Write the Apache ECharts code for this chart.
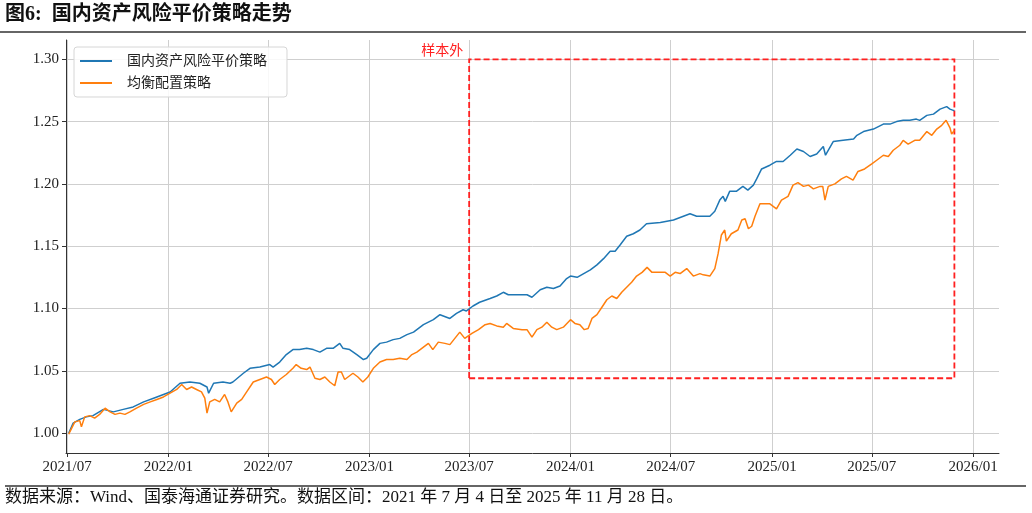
<!DOCTYPE html>
<html>
<head>
<meta charset="utf-8">
<script src="https://cdn.jsdelivr.net/npm/echarts@6/dist/echarts.min.js"></script>
</head>
<body style="margin:0;background:#fff">
<!-- 图表容器 -->
<div id="main" style="width:1032px;height:513px;"></div>
<script type="text/javascript">
    // 国内资产风险平价策略
    var riskDates = ['2021-07-04','2021-07-12','2021-07-24','2021-08-05','2021-08-17','2021-09-05','2021-09-23','2021-10-11','2021-10-29','2021-11-17',
        '2021-12-05','2021-12-23','2022-01-04','2022-01-22','2022-02-09','2022-02-27','2022-03-12','2022-03-15','2022-03-24','2022-04-10',
        '2022-04-23','2022-04-28','2022-05-17','2022-05-29','2022-06-16','2022-07-04','2022-07-10','2022-07-22','2022-08-03','2022-08-15',
        '2022-08-27','2022-09-09','2022-09-21','2022-10-03','2022-10-15','2022-10-27','2022-11-08','2022-11-14','2022-11-26','2022-12-09',
        '2022-12-21','2022-12-27','2023-01-08','2023-01-20','2023-02-01','2023-02-13','2023-02-25','2023-03-10','2023-03-22','2023-04-09',
        '2023-04-27','2023-05-09','2023-05-27','2023-06-08','2023-06-20','2023-06-26','2023-07-08','2023-07-20','2023-08-08','2023-08-20',
        '2023-09-01','2023-09-10','2023-09-25','2023-10-14','2023-10-23','2023-11-07','2023-11-19','2023-12-01','2023-12-13','2023-12-25',
        '2024-01-01','2024-01-13','2024-01-25','2024-02-06','2024-02-18','2024-03-01','2024-03-13','2024-03-22','2024-03-31','2024-04-12',
        '2024-04-24','2024-05-06','2024-05-18','2024-06-12','2024-07-06','2024-08-05','2024-08-17','2024-08-29','2024-09-10','2024-09-19',
        '2024-09-28','2024-10-04','2024-10-08','2024-10-16','2024-10-28','2024-11-09','2024-11-18','2024-11-28','2024-12-04','2024-12-13',
        '2024-12-28','2025-01-09','2025-01-21','2025-02-03','2025-02-15','2025-02-27','2025-03-11','2025-03-23','2025-04-04','2025-04-08',
        '2025-04-22','2025-05-10','2025-05-29','2025-06-04','2025-06-16','2025-07-04','2025-07-22','2025-08-03','2025-08-15','2025-08-27',
        '2025-09-08','2025-09-20','2025-09-26','2025-10-09','2025-10-21','2025-11-02','2025-11-14','2025-11-20','2025-11-26','2025-11-28'];
    var riskValues = [1.000,1.008,1.011,1.013,1.014,1.019,1.017,1.019,1.021,1.025,
        1.028,1.031,1.033,1.040,1.041,1.040,1.037,1.032,1.040,1.041,
        1.040,1.041,1.048,1.052,1.053,1.055,1.053,1.057,1.063,1.067,
        1.067,1.068,1.067,1.065,1.068,1.068,1.072,1.068,1.067,1.063,
        1.059,1.060,1.067,1.072,1.073,1.075,1.076,1.079,1.081,1.087,
        1.091,1.095,1.092,1.096,1.099,1.098,1.102,1.105,1.108,1.110,
        1.113,1.111,1.111,1.111,1.109,1.115,1.117,1.116,1.118,1.124,
        1.126,1.125,1.128,1.131,1.135,1.140,1.146,1.146,1.151,1.158,
        1.160,1.163,1.168,1.169,1.171,1.176,1.174,1.174,1.174,1.178,
        1.187,1.190,1.186,1.194,1.194,1.198,1.195,1.199,1.204,1.212,
        1.215,1.218,1.218,1.223,1.228,1.226,1.222,1.224,1.230,1.223,
        1.234,1.235,1.236,1.239,1.242,1.244,1.248,1.248,1.250,1.251,
        1.251,1.252,1.251,1.255,1.256,1.260,1.262,1.260,1.259,1.259];

    // 均衡配置策略
    var balDates = ['2021-07-04','2021-07-06','2021-07-15','2021-07-24','2021-07-27','2021-08-02','2021-08-11','2021-08-20','2021-08-29','2021-09-08',
        '2021-09-17','2021-09-26','2021-10-05','2021-10-14','2021-10-23','2021-11-04','2021-11-17','2021-11-29','2021-12-11','2021-12-23',
        '2022-01-04','2022-01-16','2022-01-25','2022-02-03','2022-02-12','2022-02-21','2022-03-02','2022-03-08','2022-03-12','2022-03-17',
        '2022-03-26','2022-04-04','2022-04-13','2022-04-19','2022-04-25','2022-05-05','2022-05-14','2022-05-23','2022-06-04','2022-06-16',
        '2022-06-28','2022-07-07','2022-07-13','2022-07-22','2022-08-03','2022-08-15','2022-08-21','2022-08-30','2022-09-09','2022-09-15',
        '2022-09-24','2022-10-03','2022-10-12','2022-10-21','2022-10-30','2022-11-05','2022-11-11','2022-11-17','2022-11-23','2022-12-02',
        '2022-12-11','2022-12-20','2022-12-29','2023-01-08','2023-01-20','2023-02-01','2023-02-13','2023-02-25','2023-03-10','2023-03-19',
        '2023-03-28','2023-04-09','2023-04-18','2023-04-26','2023-05-06','2023-05-18','2023-05-27','2023-06-05','2023-06-14','2023-06-23',
        '2023-07-06','2023-07-18','2023-07-30','2023-08-08','2023-08-20','2023-09-01','2023-09-07','2023-09-19','2023-10-05','2023-10-14',
        '2023-10-23','2023-11-01','2023-11-10','2023-11-19','2023-11-28','2023-12-07','2023-12-19','2024-01-01','2024-01-09','2024-01-18',
        '2024-01-26','2024-02-02','2024-02-09','2024-02-18','2024-02-27','2024-03-07','2024-03-16','2024-03-25','2024-04-03','2024-04-12',
        '2024-04-21','2024-04-30','2024-05-10','2024-05-19','2024-05-28','2024-06-09','2024-06-21','2024-06-30','2024-07-09','2024-07-18',
        '2024-07-30','2024-08-11','2024-08-23','2024-08-29','2024-09-10','2024-09-19','2024-09-25','2024-10-01','2024-10-07','2024-10-10',
        '2024-10-19','2024-10-31','2024-11-07','2024-11-13','2024-11-19','2024-11-25','2024-12-01','2024-12-10','2024-12-19','2024-12-28',
        '2025-01-09','2025-01-18','2025-01-30','2025-02-08','2025-02-17','2025-02-27','2025-03-08','2025-03-17','2025-03-29','2025-04-03',
        '2025-04-07','2025-04-13','2025-04-25','2025-05-07','2025-05-16','2025-05-28','2025-06-06','2025-06-18','2025-07-01','2025-07-10',
        '2025-07-22','2025-07-31','2025-08-09','2025-08-21','2025-08-27','2025-09-05','2025-09-17','2025-09-26','2025-10-09','2025-10-18',
        '2025-10-27','2025-11-05','2025-11-13','2025-11-20','2025-11-23','2025-11-28'];
    var balValues = [0.999,1.001,1.009,1.010,1.005,1.013,1.014,1.012,1.015,1.020,
        1.017,1.015,1.016,1.015,1.017,1.020,1.023,1.025,1.027,1.029,
        1.032,1.035,1.039,1.035,1.037,1.035,1.033,1.028,1.016,1.025,
        1.027,1.025,1.031,1.025,1.017,1.024,1.027,1.033,1.041,1.043,
        1.045,1.043,1.039,1.043,1.047,1.052,1.055,1.052,1.051,1.053,
        1.044,1.043,1.045,1.041,1.038,1.049,1.049,1.043,1.045,1.048,
        1.045,1.041,1.045,1.052,1.057,1.059,1.059,1.060,1.059,1.063,
        1.065,1.069,1.072,1.067,1.073,1.072,1.071,1.076,1.081,1.076,
        1.080,1.083,1.087,1.088,1.086,1.085,1.088,1.084,1.083,1.083,
        1.077,1.083,1.085,1.089,1.085,1.083,1.085,1.091,1.088,1.087,
        1.083,1.084,1.092,1.095,1.101,1.107,1.110,1.108,1.113,1.117,
        1.121,1.126,1.129,1.133,1.129,1.129,1.129,1.126,1.129,1.128,
        1.132,1.126,1.128,1.127,1.126,1.132,1.144,1.159,1.163,1.154,
        1.160,1.163,1.171,1.172,1.164,1.166,1.174,1.184,1.184,1.184,
        1.180,1.187,1.190,1.199,1.201,1.198,1.199,1.196,1.198,1.198,
        1.187,1.198,1.200,1.204,1.206,1.203,1.210,1.212,1.216,1.219,
        1.223,1.222,1.227,1.231,1.235,1.232,1.235,1.235,1.242,1.239,
        1.244,1.247,1.251,1.245,1.240,1.243];

    // 坐标刻度
    var xTickLabels = ['2021/07','2022/01','2022/07','2023/01','2023/07','2024/01','2024/07','2025/01','2025/07','2026/01'];
    var yTickValues = [1.00, 1.05, 1.10, 1.15, 1.20, 1.25, 1.30];

    // 样本外区域
    var outStart = '2023-07-01', outEnd = '2025-11-28';
    var outLow = 1.044, outHigh = 1.30;

    var serifFont = '"Liberation Serif", "Noto Sans CJK SC", serif';

    // 日期字符串 -> 时间戳（本地时间）
    function ts(s) {
        var p = s.split(/[-\/]/);
        return +new Date(+p[0], +p[1] - 1, p[2] ? +p[2] : 1);
    }
    var xTicks = xTickLabels.map(ts);

    function zip(ds, vs) {
        return ds.map(function (d, i) { return [ts(d), vs[i]]; });
    }

    var myChart = echarts.init(document.getElementById('main'));
    var option = {
        animation: false,
        backgroundColor: '#fff',
        grid: { left: 66, right: 33, top: 40, bottom: 60 },
        legend: {
            orient: 'vertical',
            left: 74, top: 47,
            padding: [7, 20, 7, 6],
            icon: 'rect',
            itemWidth: 32, itemHeight: 2, itemGap: 8,
            backgroundColor: 'rgba(255,255,255,0.85)',
            borderColor: '#d6d6d6', borderWidth: 1, borderRadius: 3,
            textStyle: { fontFamily: serifFont, fontSize: 14, color: '#222', padding: [0, 0, 0, 10] },
            data: ['国内资产风险平价策略', '均衡配置策略']
        },
        xAxis: {
            type: 'value',
            min: ts('2021-06-29'), max: ts('2026-02-17'),
            axisLine: { lineStyle: { color: '#333', width: 1 } },
            axisTick: { show: true, length: 4, lineStyle: { color: '#333' }, customValues: xTicks },
            axisLabel: {
                customValues: xTicks,
                fontFamily: serifFont, fontSize: 15, color: '#222', margin: 7,
                formatter: function (v) {
                    var i = xTicks.indexOf(v);
                    return i >= 0 ? xTickLabels[i] : '';
                }
            },
            splitLine: { show: true, lineStyle: { color: '#cfcfcf', width: 1 } }
        },
        yAxis: {
            type: 'value',
            min: 0.984, max: 1.3155,
            axisLine: { show: true, lineStyle: { color: '#333', width: 1 } },
            axisTick: { show: true, length: 4, lineStyle: { color: '#333' }, customValues: yTickValues },
            axisLabel: {
                customValues: yTickValues,
                fontFamily: serifFont, fontSize: 15, color: '#222', margin: 7,
                formatter: function (v) { return v.toFixed(2); }
            },
            splitLine: { show: true, lineStyle: { color: '#cfcfcf', width: 1 } }
        },
        series: [{
            name: '国内资产风险平价策略',
            type: 'line',
            symbol: 'none',
            color: '#1f77b4',
            lineStyle: { width: 1.5 },
            data: zip(riskDates, riskValues),
            markArea: {
                silent: true,
                itemStyle: { color: 'rgba(0,0,0,0)', borderColor: '#ff2020', borderWidth: 1.8, borderType: [6, 3] },
                label: {
                    show: true, position: [-5, -7], align: 'right', verticalAlign: 'middle',
                    color: '#ff2020', fontSize: 14, fontFamily: serifFont
                },
                data: [[{ name: '样本外', xAxis: ts(outStart), yAxis: outLow }, { xAxis: ts(outEnd), yAxis: outHigh }]]
            }
        }, {
            name: '均衡配置策略',
            type: 'line',
            symbol: 'none',
            color: '#ff7f0e',
            lineStyle: { width: 1.5 },
            data: zip(balDates, balValues)
        }],
        graphic: [
            { type: 'text', left: 5, top: 5, style: { text: '图6:  国内资产风险平价策略走势', fontFamily: serifFont, fontSize: 20, fontWeight: 'bold', fill: '#111' } },
            { type: 'line', shape: { x1: 0, y1: 32, x2: 1026, y2: 32 }, style: { stroke: '#333', lineWidth: 1.5 } },
            { type: 'line', shape: { x1: 5, y1: 486, x2: 1026, y2: 486 }, style: { stroke: '#333', lineWidth: 1.5 } },
            { type: 'text', left: 5, top: 489, style: { text: '数据来源：Wind、国泰海通证券研究。数据区间：2021 年 7 月 4 日至 2025 年 11 月 28 日。', fontFamily: serifFont, fontSize: 17, fill: '#111' } }
        ]
    };
    myChart.setOption(option);
</script>
</body>
</html>
